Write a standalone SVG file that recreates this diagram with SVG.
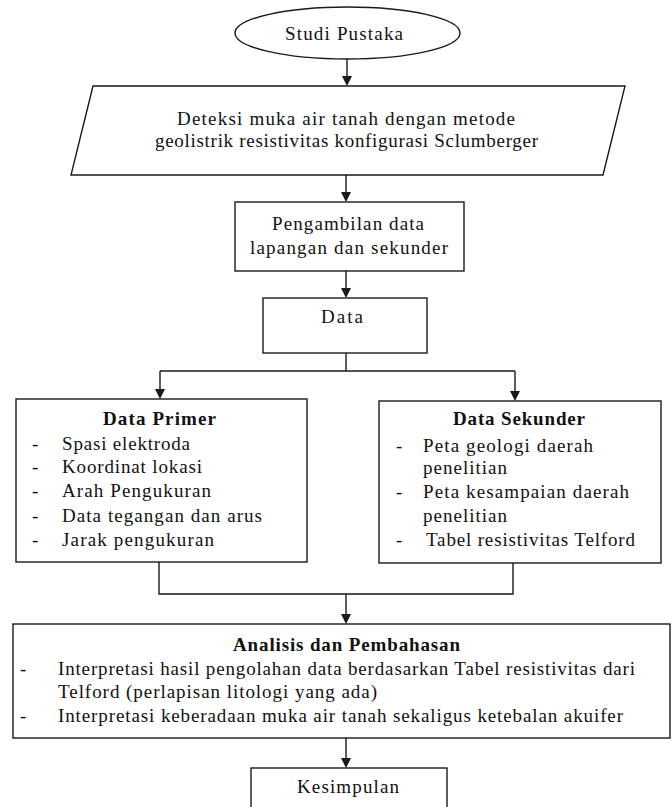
<svg xmlns="http://www.w3.org/2000/svg" width="672" height="807" viewBox="0 0 672 807">
<style>
.s{fill:#fff;stroke:#1a1a1a;stroke-width:1.4}
.c{fill:none;stroke:#1a1a1a;stroke-width:1.4}
.ah{fill:#1a1a1a}
text{font-family:"Liberation Serif","Times New Roman",serif;font-size:19px;fill:#111}
.b{font-weight:bold}
</style>
<rect width="672" height="807" fill="#fff"/>
<g id="connectors">
<line class="c" x1="347" y1="59" x2="347" y2="80"/>
<line class="c" x1="346" y1="175" x2="346" y2="196"/>
<line class="c" x1="346" y1="271" x2="346" y2="292"/>
<line class="c" x1="346" y1="353" x2="346" y2="371"/>
<line class="c" x1="160" y1="371" x2="515" y2="371"/>
<line class="c" x1="160" y1="371" x2="160" y2="393"/>
<line class="c" x1="515" y1="371" x2="515" y2="395"/>
<polyline class="c" points="159,562 159,594 513,594 513,563"/>
<line class="c" x1="346" y1="594" x2="346" y2="618"/>
<line class="c" x1="346" y1="738" x2="346" y2="762"/>
<path class="ah" d="M342,76 L352,76 L347,86 Z M341,192 L351,192 L346,202 Z M341,288 L351,288 L346,298 Z M155,389 L165,389 L160,399 Z M510,391 L520,391 L515,401 Z M341,614 L351,614 L346,624 Z M341,758 L351,758 L346,768 Z"/>
</g>
<g id="studi-pustaka">
<ellipse class="s" cx="347.5" cy="33" rx="112.5" ry="26"/>
<text x="285" y="40" textLength="118" lengthAdjust="spacing">Studi Pustaka</text>
</g>
<g id="deteksi">
<polygon class="s" points="93,86 625,86 603,175 71,175"/>
<text x="177" y="125" textLength="338" lengthAdjust="spacing">Deteksi muka air tanah dengan metode</text>
<text x="155" y="147" textLength="383" lengthAdjust="spacing">geolistrik  resistivitas konfigurasi Sclumberger</text>
</g>
<g id="pengambilan">
<rect class="s" x="235" y="202" width="229" height="69"/>
<text x="272" y="230" textLength="152" lengthAdjust="spacing">Pengambilan data</text>
<text x="250" y="254" textLength="198" lengthAdjust="spacing">lapangan dan sekunder</text>
</g>
<g id="data">
<rect class="s" x="263" y="298" width="164" height="55"/>
<text x="321" y="323" textLength="42" lengthAdjust="spacing">Data</text>
</g>
<g id="data-primer">
<rect class="s" x="16" y="399" width="291" height="163"/>
<text class="b" x="103" y="425" textLength="113" lengthAdjust="spacing">Data Primer</text>
<text x="32" y="450">-</text><text x="62" y="450" textLength="128" lengthAdjust="spacing">Spasi elektroda</text>
<text x="32" y="473">-</text><text x="62" y="473" textLength="140" lengthAdjust="spacing">Koordinat lokasi</text>
<text x="32" y="497">-</text><text x="62" y="497" textLength="149" lengthAdjust="spacing">Arah Pengukuran</text>
<text x="32" y="522">-</text><text x="62" y="522" textLength="200" lengthAdjust="spacing">Data tegangan dan arus</text>
<text x="32" y="546">-</text><text x="62" y="546" textLength="152" lengthAdjust="spacing">Jarak pengukuran</text>
</g>
<g id="data-sekunder">
<rect class="s" x="379" y="401" width="282" height="162"/>
<text class="b" x="453" y="425" textLength="132" lengthAdjust="spacing">Data Sekunder</text>
<text x="396" y="452">-</text><text x="423" y="452" textLength="170" lengthAdjust="spacing">Peta geologi  daerah</text>
<text x="423" y="474" textLength="84" lengthAdjust="spacing">penelitian</text>
<text x="396" y="498">-</text><text x="423" y="498" textLength="206" lengthAdjust="spacing">Peta kesampaian daerah</text>
<text x="423" y="522" textLength="84" lengthAdjust="spacing">penelitian</text>
<text x="396" y="546">-</text><text x="426" y="546" textLength="209" lengthAdjust="spacing">Tabel resistivitas Telford</text>
</g>
<g id="analisis">
<rect class="s" x="13" y="624" width="657" height="114"/>
<text class="b" x="233" y="651" textLength="227" lengthAdjust="spacing">Analisis dan Pembahasan</text>
<text x="20" y="675">-</text><text x="58" y="675" textLength="577" lengthAdjust="spacing">Interpretasi hasil pengolahan data berdasarkan Tabel resistivitas dari</text>
<text x="58" y="698" textLength="319" lengthAdjust="spacing">Telford (perlapisan litologi  yang ada)</text>
<text x="20" y="722">-</text><text x="58" y="722" textLength="565" lengthAdjust="spacing">Interpretasi keberadaan muka air tanah sekaligus ketebalan akuifer</text>
</g>
<g id="kesimpulan">
<rect class="s" x="251" y="768" width="196" height="50"/>
<text x="297" y="793" textLength="102" lengthAdjust="spacing">Kesimpulan</text>
</g>
</svg>
